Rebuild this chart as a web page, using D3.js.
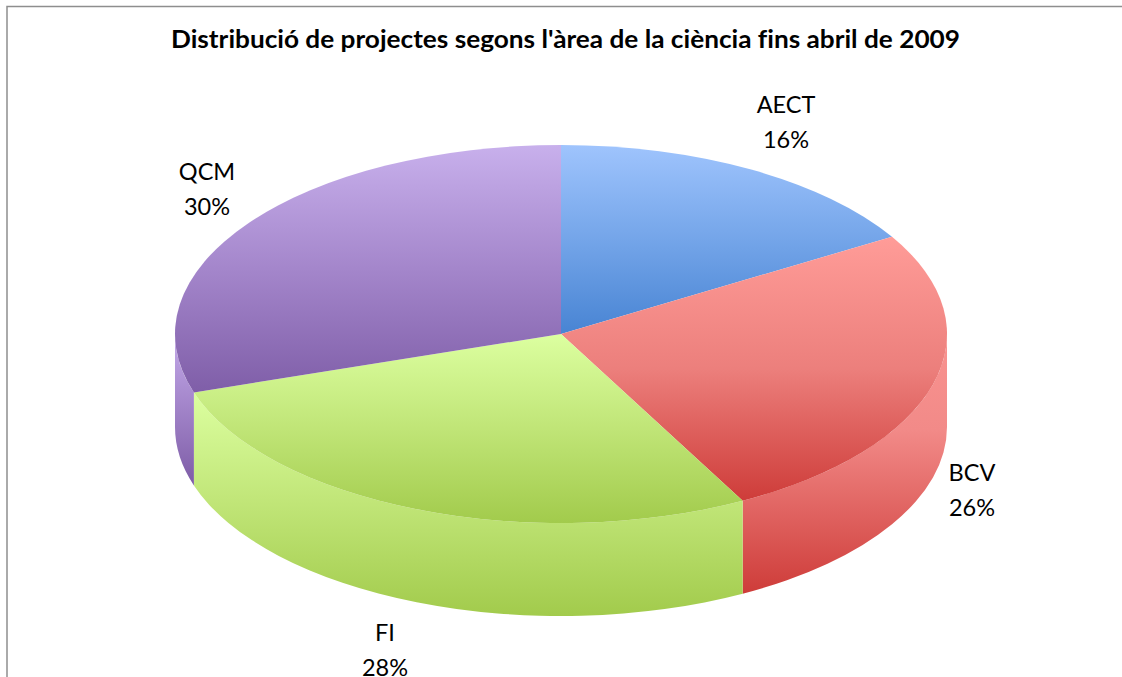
<!DOCTYPE html>
<html>
<head>
<meta charset="utf-8">
<script src="https://cdn.jsdelivr.net/npm/d3@7"></script>
<style>
html, body { margin: 0; padding: 0; background: #fff; overflow: hidden; }
svg { display: block; }
text { font-family: Lato, "Open Sans", sans-serif; fill: #000; font-variant-ligatures: none; }
</style>
</head>
<body>
<svg id="chart" width="1122" height="677"></svg>
<script>
var title = "Distribució de projectes segons l'àrea de la ciència fins abril de 2009";
var categories = ["AECT", "BCV", "FI", "QCM"];
var shares = [16.4, 25.8, 27.8, 30.0];
// each gradient is [top, middle, bottom]
var topColors = [
    ["#9fc4fd", "#74a5e9", "#4884d3"],
    ["#ff9c98", "#ec7f7c", "#ce3c39"],
    ["#dcffa0", "#c0e577", "#a2cb4c"],
    ["#c8b0ec", "#a486cb", "#7f5ea8"]
];
var wallColors = [
    ["#9fc4fd", "#74a5e9", "#4884d3"],
    ["#f99390", "#f28a88", "#ce3c39"],
    ["#dcffa0", "#c0e577", "#a2cb4c"],
    ["#c4aaea", "#a183c8", "#7d5ca6"]
];
var wallMiddle = [50, 37, 50, 50];

var W = 1122, H = 677;
var cx = 561, cy = 334, rx = 386, ry = 189, depth = 93;
// label centres, one per category (second line is +35)
var labelX = [786, 972, 385, 207];
var labelY = [113, 481, 641, 180];

var svg = d3.select("#chart");
var defs = svg.append("defs");

svg.append("rect")
    .attr("x", 7).attr("y", 6.5)
    .attr("width", W).attr("height", H)
    .attr("fill", "#fff")
    .attr("stroke", "#8e8e8e")
    .attr("stroke-width", 1.5);

svg.append("text")
    .attr("x", 565.5).attr("y", 48)
    .attr("text-anchor", "middle")
    .attr("font-size", 25)
    .attr("font-weight", 700)
    .attr("textLength", 789)
    .attr("lengthAdjust", "spacingAndGlyphs")
    .text(title);

var slices = d3.pie().sort(null)(shares);

function px(a) { return cx + rx * Math.sin(a); }
function py(a) { return cy - ry * Math.cos(a); }

function topPath(d) {
    var large = d.endAngle - d.startAngle > Math.PI ? 1 : 0;
    return "M" + cx + "," + cy +
        "L" + px(d.startAngle) + "," + py(d.startAngle) +
        "A" + rx + "," + ry + " 0 " + large + " 1 " + px(d.endAngle) + "," + py(d.endAngle) + "Z";
}

// only the front half of the rim can be seen
function wallPath(d) {
    var a0 = Math.max(d.startAngle, Math.PI / 2);
    var a1 = Math.min(d.endAngle, Math.PI * 1.5);
    if (a1 <= a0) return null;
    return "M" + px(a0) + "," + py(a0) +
        "A" + rx + "," + ry + " 0 0 1 " + px(a1) + "," + py(a1) +
        "L" + px(a1) + "," + (py(a1) + depth) +
        "A" + rx + "," + ry + " 0 0 0 " + px(a0) + "," + (py(a0) + depth) + "Z";
}

function gradient(id, colors, middle) {
    var g = defs.append("linearGradient")
        .attr("id", id)
        .attr("x1", 0).attr("y1", 0)
        .attr("x2", 0).attr("y2", 1);
    g.append("stop").attr("offset", "0%").attr("stop-color", colors[0]);
    g.append("stop").attr("offset", middle + "%").attr("stop-color", colors[1]);
    g.append("stop").attr("offset", "100%").attr("stop-color", colors[2]);
}

categories.forEach(function (c, i) {
    gradient("top-" + i, topColors[i], 50);
    gradient("wall-" + i, wallColors[i], wallMiddle[i]);
});

var walls = slices.map(function (d, i) { return { i: i, path: wallPath(d) }; })
    .filter(function (d) { return d.path; });

svg.append("g").selectAll("path")
    .data(walls)
    .enter()
    .append("path")
    .attr("d", function (d) { return d.path; })
    .attr("fill", function (d) { return "url(#wall-" + d.i + ")"; });

svg.append("g").selectAll("path")
    .data(slices)
    .enter()
    .append("path")
    .attr("d", topPath)
    .attr("fill", function (d, i) { return "url(#top-" + i + ")"; });

var labels = svg.append("g").selectAll("text")
    .data(slices)
    .enter()
    .append("text")
    .attr("text-anchor", "middle")
    .attr("font-size", 23.5);

labels.append("tspan")
    .attr("x", function (d, i) { return labelX[i]; })
    .attr("y", function (d, i) { return labelY[i]; })
    .text(function (d, i) { return categories[i]; });

labels.append("tspan")
    .attr("x", function (d, i) { return labelX[i]; })
    .attr("y", function (d, i) { return labelY[i] + 35; })
    .text(function (d) { return d3.format(".0f")(d.value) + "%"; });
</script>
</body>
</html>
